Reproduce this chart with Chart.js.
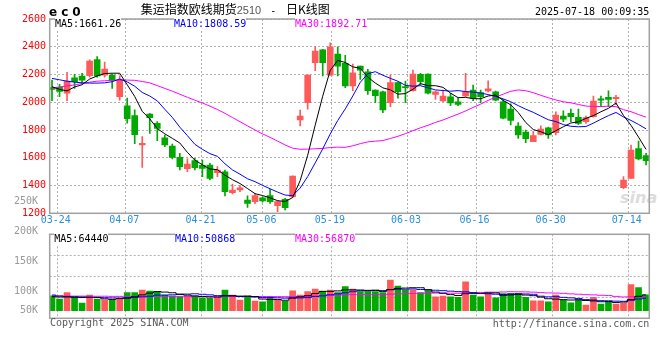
<!DOCTYPE html>
<html><head><meta charset="utf-8">
<script src="https://cdn.jsdelivr.net/npm/chart.js@4.4.1/dist/chart.umd.min.js"></script>
<style>
html,body{margin:0;padding:0;background:#fff;}
#wrap{position:relative;width:660px;height:360px;overflow:hidden;background:#fff;}
canvas{position:absolute;left:0;}
.t{position:absolute;white-space:nowrap;font-family:"DejaVu Sans Mono",monospace;font-size:10px;line-height:12px;}
.leg{background:#fff;}
.cjk{font-family:"Noto Sans CJK SC";font-size:12px;}
</style></head><body>
<div id="wrap">
<div class="t" style="left:620px;top:188px;font:italic bold 16px 'DejaVu Sans';color:#dcdcdc;">sina</div>
<canvas id="pc" width="660" height="235" style="top:0"></canvas>
<canvas id="vc" width="660" height="140" style="top:190px"></canvas>
<div class="t" style="left:49px;top:4.5px;font:bold 12px 'DejaVu Sans';letter-spacing:4px;line-height:14px;color:#000">ec0</div>
<div class="t" style="left:140.7px;top:2px;line-height:14px;color:#000"><span class="cjk">集运指数欧线期货</span><span style="font:11px 'Liberation Sans';color:#555">2510</span><span style="margin-left:3px"> - </span><span class="cjk" style="margin-left:3.8px">日K线图</span></div>
<div class="t" style="right:10.7px;top:6px;color:#000">2025-07-18 00:09:35</div>
<div class="t leg" style="left:55px;top:18px;color:#000">MA5:1661.26</div>
<div class="t leg" style="left:174px;top:18px;color:#0000ff">MA10:1808.59</div>
<div class="t leg" style="left:295px;top:18px;color:#ff00ff">MA30:1892.71</div>
<div class="t leg" style="left:54.3px;top:232.5px;color:#000">MA5:64440</div>
<div class="t leg" style="left:175px;top:232.5px;color:#0000ff">MA10:50868</div>
<div class="t leg" style="left:295px;top:232.5px;color:#ff00ff">MA30:56870</div>
<div class="t" style="left:50px;top:317px;color:#5a5a5a">Copyright 2025 SINA.COM</div>
<div class="t" style="right:10.7px;top:317.5px;color:#5a5a5a">http://finance.sina.com.cn</div>
</div>
<script>
const dates = ['03-21','03-24','03-25','03-26','03-27','03-28','03-31','04-01','04-02','04-03',
'04-07','04-08','04-09','04-10','04-11','04-14','04-15','04-16','04-17','04-18',
'04-21','04-22','04-23','04-24','04-25','04-28','04-29','04-30','05-06','05-07',
'05-08','05-09','05-12','05-13','05-14','05-15','05-16','05-19','05-20','05-21',
'05-22','05-23','05-26','05-27','05-28','05-29','05-30','06-03','06-04','06-05',
'06-06','06-09','06-10','06-11','06-12','06-13','06-16','06-17','06-18','06-19',
'06-20','06-23','06-24','06-25','06-26','06-27','06-30','07-01','07-02','07-03',
'07-04','07-07','07-08','07-09','07-10','07-11','07-14','07-15','07-16','07-17'];
const tickLabels = ['03-24','04-07','04-21','05-06','05-19','06-03','06-16','06-30','07-14'];
const priceTicks = [2600,2400,2200,2000,1800,1600,1400,1200];
const volTickVals = [250000,200000,150000,100000,50000];
const volTickText = ['250K','200K','150K','100K','50K'];

const opens = [2105,2110,2065,2177,2189,2192,2308,2195,2196,2040,
1975,1905,1693,1915,1848,1743,1685,1603,1521,1579,
1546,1548,1493,1498,1348,1368,1296,1284,1312,1327,
1255,1301,1320,1872,1997,2285,2377,2196,2347,2281,
2117,2261,2220,2088,2076,1997,2141,2110,2083,2201,
2203,2057,2009,2040,2004,2045,2088,2069,2081,2076,
2004,1951,1829,1786,1716,1769,1815,1781,1901,1920,
1892,1860,1896,2025,2036,2026,1384,1452,1666,1615];
const closes = [2093,2078,2153,2148,2160,2297,2190,2240,2160,2160,
1882,1766,1705,1889,1812,1692,1603,1536,1555,1529,
1524,1452,1512,1356,1368,1384,1272,1327,1289,1284,
1284,1240,1469,1901,2196,2369,2285,2400,2261,2117,
2213,2232,2083,2047,1944,2141,2076,2105,2203,2148,
2065,2076,2045,1995,1985,2076,2030,2040,2096,2016,
1885,1870,1765,1737,1760,1807,1764,1908,1879,1896,
1848,1889,2009,2016,2021,2036,1440,1656,1591,1579];
const highs = [2160,2129,2216,2201,2209,2305,2330,2290,2203,2190,
2030,1946,1752,1920,1860,1764,1699,1632,1593,1596,
1584,1560,1536,1512,1410,1400,1325,1340,1318,1373,
1290,1308,1470,1944,2196,2400,2382,2429,2400,2338,
2276,2261,2238,2090,2080,2196,2145,2153,2232,2209,
2205,2080,2088,2065,2030,2209,2124,2088,2155,2080,
2020,1988,1853,1800,1790,1830,1822,1932,1939,1951,
1951,1900,2045,2045,2083,2050,1464,1692,1721,1632];
const lows = [2012,2040,2011,2100,2137,2180,2180,2180,2100,2015,
1850,1702,1530,1776,1723,1680,1591,1512,1500,1512,
1464,1440,1464,1325,1340,1355,1243,1270,1280,1272,
1212,1224,1315,1829,1951,2227,2189,2196,2189,2105,
2083,2165,2057,1997,1925,1968,2029,1997,2080,2124,
2060,2021,2005,1975,1975,2040,2011,1997,2074,2010,
1880,1836,1740,1709,1716,1764,1740,1764,1860,1860,
1838,1848,1892,1968,1968,1983,1377,1452,1584,1548];
const ma5 = [2112,2093,2082,2110,2126.4,2167.2,2189.6,2207,2209.4,2209.4,
2126.4,2041.6,1934.6,1880.4,1810.8,1772.8,1740.2,1706.4,1639.6,1583,
1549.4,1519.2,1514.4,1474.6,1442.4,1414.4,1378.4,1341.4,1328,1311.2,
1291.2,1284.8,1313.2,1435.6,1618,1835,2044,2230.2,2302.2,2286.4,
2255.2,2244.6,2181.2,2138.4,2103.8,2089.4,2058.2,2062.6,2093.8,2134.6,
2119.4,2119.4,2107.4,2065.8,2033.2,2035.4,2026.2,2025.2,2045.4,2051.6,
2013.4,1981.4,1926.4,1854.6,1803.4,1787.8,1766.6,1795.2,1823.6,1850.8,
1859,1884,1904.2,1931.6,1956.6,1994.2,1904.4,1833.8,1748.8,1660.4];
const ma10 = [2172,2162,2152,2145,2140,2138,2138,2140,2148,2167.9,
2146.8,2115.6,2070.8,2044.9,2010.1,1949.6,1890.9,1820.5,1760,1696.9,
1661.1,1629.7,1610.4,1557.1,1512.7,1481.9,1448.8,1427.9,1401.3,1376.8,
1352.8,1331.6,1327.3,1381.8,1464.6,1563.1,1664.4,1771.7,1868.9,1952.2,
2045.1,2144.3,2205.7,2220.3,2195.1,2172.3,2151.4,2121.9,2116.1,2119.2,
2104.4,2088.8,2085,2079.8,2083.9,2077.4,2072.8,2066.3,2055.6,2042.4,
2024.4,2003.8,1975.8,1950,1927.5,1900.6,1874,1860.8,1839.1,1827.1,
1823.4,1825.3,1849.7,1877.6,1903.7,1926.6,1894.2,1869,1840.2,1808.5];
const ma30 = [2100,2110,2118,2125,2135,2145,2152,2155,2158,2160,
2160,2158,2150,2140,2120,2100,2080,2058,2036,2015,
1995,1972,1948,1920,1890,1860,1830,1800,1772,1747.2,
1720.2,1692.3,1669.5,1661.3,1662.5,1664.9,1668,1673.4,1676.7,1675.3,
1686.3,1701.9,1714.5,1719.7,1724.1,1739.1,1754.9,1773.8,1795.4,1816.1,
1834.1,1854.9,1872.7,1894,1914.5,1937.6,1962.9,1986.6,2013.5,2037.9,
2058,2079,2088.8,2083.4,2068.8,2050.1,2032.7,2016.3,2003.6,1996.2,
1984.1,1972.6,1970.2,1969.1,1971.7,1968.2,1947,1932,1911.6,1892.7];
const volumes = [61200,47800,73500,55000,31500,64000,47800,43700,43700,47800,
73500,73500,84500,80400,77600,64000,60000,57000,60000,60000,
53000,50600,53000,84500,64000,43700,54700,39600,36700,54700,
43700,38400,81600,64000,77600,88600,80400,84500,73500,98000,
88600,77600,77600,77600,73500,125300,100800,84500,84500,73500,
80900,57000,60000,57000,54700,118000,64000,57000,71000,53000,
69500,71000,71000,54700,40800,40800,36700,64000,43700,32600,
45000,23300,55000,27300,35900,27300,30200,106500,94000,64400];
const vma5 = [57000,56000,56000,55000,53800,54360,54360,48400,46140,49400,
51300,56440,64600,71940,77900,76000,73300,67800,63720,60200,
58000,56120,55320,60220,61020,59160,59980,57300,47740,45880,
45880,42620,51020,56480,61060,70040,78440,79020,80920,85000,
85000,84440,83060,83880,78980,86320,90960,92340,93720,93720,
84840,76080,71180,65680,61920,69340,70740,70140,72940,72600,
62900,64300,67100,63840,61400,55660,48800,47400,45200,43560,
44400,41720,39920,36640,37300,33760,35140,45440,58780,64480];
const vma10 = [64000,60000,58000,57000,56000,55000,54000,53000,52000,51600,
52830,55400,56500,59040,63650,63650,64870,66200,67830,69050,
67000,64710,61560,61970,60610,58580,58050,56310,53980,53450,
52520,51300,54160,52110,53470,57960,60530,65020,68700,73030,
77520,81440,81040,82400,81990,85660,87700,87700,88800,86350,
85580,83520,81760,79700,77820,77090,73410,70660,69310,67260,
66120,67520,68620,68390,67000,59280,56550,57250,54520,52480,
50030,45260,43660,40920,40430,39080,38430,42680,47710,50890];
const vma30 = [60000,60000,60000,59500,59500,59000,59000,59000,58500,58500,
58500,58500,58500,58500,58500,58500,58500,58500,58500,58500,
58500,58000,58000,58000,58000,58000,58000,58000,58000,58030,
57450,57140,57410,57710,59240,60060,61150,62510,63500,65180,
65680,65820,65590,65490,65360,67400,68760,69680,70490,70940,
71870,72090,72320,71400,71090,73570,73880,74460,75600,75550,
76410,77490,77140,76830,75600,74010,72550,71870,70880,68700,
67240,65430,64680,63000,61750,58480,56130,56860,57180,56880];

const RED = '#ff5a5a', GREEN = '#00a800', GRID = '#b0b0b0', BOX = '#a0a0a0';
const MONO = "'DejaVu Sans Mono'";
const tickIdx = tickLabels.map(d => dates.indexOf(d));
const colors = closes.map((c, i) => c >= opens[i] ? RED : GREEN);
const pts = arr => arr.map((v, i) => ({x: i, y: v}));
const labelFloor = 68300;

const boxPlugin = {
  id: 'box',
  afterDatasetsDraw(chart) {
    const a = chart.chartArea, c = chart.ctx;
    c.save(); c.strokeStyle = BOX; c.lineWidth = 1.5;
    c.strokeRect(a.left, a.top, a.right - a.left, a.bottom - a.top);
    c.restore();
  }
};
const candleX = {type: 'linear', min: -0.306, max: 79.43, offset: false, display: false, grid: {offset: false}};
const gridX = (h, showLabels) => ({
  type: 'linear', position: 'bottom', min: 0, max: 78.76, offset: false,
  afterBuildTicks: s => { s.ticks = tickIdx.map(v => ({value: v})); },
  afterFit: s => { s.height = h; },
  grid: {color: GRID, drawTicks: false, offset: false},
  border: {display: false, dash: [2, 2]},
  ticks: {display: showLabels, autoSkip: false, maxRotation: 0, padding: 1, labelOffset: -1.5,
    color: '#2a8fdd', font: {family: MONO, size: 10}, callback: v => dates[v]}
});
const lineDs = (arr, color, axis, stepped) => ({type: 'line', data: pts(arr), borderColor: color,
  borderWidth: 1, pointRadius: 0, stepped: stepped, xAxisID: 'x', yAxisID: axis, order: 0});

new Chart(document.getElementById('pc'), {
  type: 'bar',
  data: {datasets: [
    lineDs(ma5, '#000000', 'y', false),
    lineDs(ma10, '#0000ff', 'y', false),
    lineDs(ma30, '#ff00ff', 'y', false),
    {data: dates.map((d, i) => ({x: i, y: [opens[i], closes[i]]})), backgroundColor: colors,
      barThickness: 6, grouped: false, minBarLength: 1, borderWidth: 0, xAxisID: 'x', yAxisID: 'y', order: 1},
    {data: dates.map((d, i) => ({x: i, y: [lows[i], highs[i]]})), backgroundColor: colors,
      barThickness: 1, grouped: false, borderWidth: 0, xAxisID: 'x', yAxisID: 'y', order: 2}
  ]},
  options: {
    responsive: false, animation: false, devicePixelRatio: 1,
    layout: {padding: {left: 0, right: 10.7, top: 19, bottom: 0}},
    plugins: {legend: {display: false}, tooltip: {enabled: false}},
    scales: {
      x: candleX,
      xg: gridX(235 - 213.3, true),
      y: {type: 'linear', position: 'left', min: 1200, max: 2600,
        afterBuildTicks: s => { s.ticks = priceTicks.map(v => ({value: v})); },
        afterFit: s => { s.width = 49.7; },
        grid: {color: GRID, drawTicks: false}, border: {display: false, dash: [2, 2]},
        ticks: {color: '#ff0000', padding: 3.7, font: {family: MONO, size: 10}, callback: v => String(v)}}
    }
  },
  plugins: [boxPlugin]
});

new Chart(document.getElementById('vc'), {
  type: 'bar',
  data: {datasets: [
    lineDs(vma5, '#000000', 'yv', 'middle'),
    lineDs(vma10, '#0000ff', 'yv', 'middle'),
    lineDs(vma30, '#ff00ff', 'yv', 'middle'),
    {data: pts(volumes), backgroundColor: colors, barThickness: 6, borderWidth: 0,
      xAxisID: 'x', yAxisID: 'yv', order: 1}
  ]},
  options: {
    responsive: false, animation: false, devicePixelRatio: 1,
    layout: {padding: {left: 0, right: 10.7, top: 44.3, bottom: 140 - 128.3}},
    plugins: {legend: {display: false}, tooltip: {enabled: false}},
    scales: {
      x: candleX,
      xg: gridX(0, false),
      yl: {type: 'linear', position: 'left', min: 54500, max: 194500,
        afterBuildTicks: s => { s.ticks = volTickVals.map(v => ({value: Math.max(v, labelFloor)})); },
        afterFit: s => { s.width = 49.7; },
        grid: {display: false}, border: {display: false},
        ticks: {autoSkip: false, color: '#999999', padding: 3.7, font: {family: MONO, size: 10},
          callback: (v, i) => volTickText[i]}},
      yv: {type: 'linear', position: 'right', min: -31000, max: 311800,
        afterBuildTicks: s => { const a = s.min, b = s.max; s.ticks = [0, 1, 2, 3, 4].map(j => ({value: a + (b - a) * j / 4})); },
        afterFit: s => { s.width = 0; },
        grid: {color: GRID, drawTicks: false}, border: {display: false, dash: [2, 2]},
        ticks: {display: false}}
    }
  },
  plugins: [boxPlugin]
});
</script>
</body></html>
